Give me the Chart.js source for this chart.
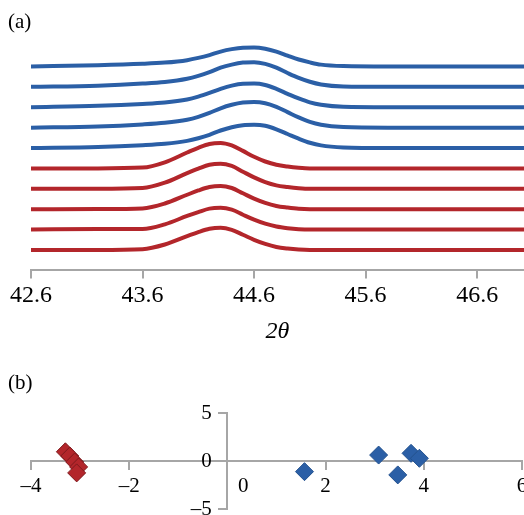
<!DOCTYPE html>
<html>
<head>
<meta charset="utf-8">
<script src="https://cdn.jsdelivr.net/npm/chart.js@4.4.1/dist/chart.umd.min.js"></script>
<style>
  html, body { margin: 0; padding: 0; background: #fff; overflow: hidden; width: 524px; height: 515px; }
  #wrap { position: relative; width: 524px; height: 515px; overflow: hidden; }
  canvas { position: absolute; left: 0; }
  .panel { position: absolute; left: 8px; font-family: "Liberation Serif", serif; font-size: 21px; line-height: 21px; color: #000; }
</style>
</head>
<body>
<div id="wrap">
  <canvas id="profiles" width="524" height="352" style="top:0"></canvas>
  <canvas id="scores" width="540" height="180" style="top:350px"></canvas>
  <div class="panel" style="top:11px">(a)</div>
  <div class="panel" style="top:372px">(b)</div>
</div>
<script>
// (a) diffraction profiles, stacked (each curve already carries its offset)
const twoTheta = [42.6, 43.2, 43.6, 43.8, 44.0, 44.1, 44.2, 44.3, 44.4, 44.5, 44.6, 44.7, 44.8, 44.9, 45.0, 45.1, 45.2, 45.4, 45.8, 46.4, 47.02];
const thetaTicks = [42.6, 43.6, 44.6, 45.6, 46.6];

const blue1 = [100, 100.6, 101.3, 101.9, 103.1, 104.2, 105.6, 107.3, 108.5, 109.2, 109.3, 108.7, 107.3, 105.3, 103.4, 102.0, 100.9, 100.2, 100, 100, 100];
const blue2 = [90, 90.6, 91.6, 92.4, 94.0, 95.4, 97.2, 99.4, 100.9, 101.9, 102.1, 101.3, 99.4, 96.8, 94.4, 92.5, 91.2, 90.2, 90, 90, 90];
const blue3 = [80, 80.7, 81.6, 82.3, 83.8, 85.2, 87.0, 89.0, 90.6, 91.5, 91.6, 90.9, 89.0, 86.6, 84.3, 82.4, 81.2, 80.2, 80, 80, 80];
const blue4 = [70, 70.6, 71.6, 72.4, 73.9, 75.3, 77.2, 79.5, 81.2, 82.3, 82.6, 82.0, 80.2, 77.6, 75.0, 72.8, 71.4, 70.3, 70, 70, 70];
const blue5 = [60, 60.5, 61.4, 62.1, 63.5, 64.8, 66.5, 68.6, 70.2, 71.2, 71.4, 70.9, 69.2, 66.9, 64.6, 62.6, 61.3, 60.3, 60, 60, 60];

const red1 = [50, 50, 50.4, 53.0, 57.8, 60.1, 62.0, 62.5, 61.3, 58.6, 55.7, 53.4, 51.8, 50.9, 50.3, 50, 50, 50, 50, 50, 50];
const red2 = [40, 40, 40.4, 43.0, 47.7, 49.9, 51.8, 52.3, 51.2, 48.4, 45.6, 43.3, 41.7, 40.9, 40.3, 40, 40, 40, 40, 40, 40];
const red3 = [30, 30.1, 30.4, 32.8, 37.1, 39.2, 40.9, 41.4, 40.4, 37.8, 35.2, 33.1, 31.6, 30.8, 30.2, 30, 30, 30, 30, 30, 30];
const red4 = [20, 20.3, 20.3, 22.6, 26.7, 28.6, 30.3, 30.7, 29.8, 27.3, 24.9, 22.9, 21.5, 20.7, 20.2, 20, 20, 20.1, 20, 20, 20];
const red5 = [10, 10, 10.4, 12.7, 16.8, 18.8, 20.4, 20.9, 19.9, 17.5, 15.0, 13.0, 11.5, 10.7, 10.2, 10, 10, 10, 10, 10, 10];

// (b) scores
const redX = [-3.30, -3.21, -3.11, -3.03, -3.07];
const redY = [0.96, 0.52, -0.10, -0.62, -1.24];
const blueX = [1.57, 3.08, 3.47, 3.74, 3.91];
const blueY = [-1.11, 0.62, -1.45, 0.80, 0.28];
const scoreXTicks = [-4, -2, 0, 2, 4, 6];
const scoreYTicks = [-5, 0, 5];

const BLUE = '#2b5fa6';
const RED = '#b3262b';
const AXIS = '#a6a6a6';
const SERIF = '"Liberation Serif", "Times New Roman", serif';

const asPoints = (xs, ys) => xs.map((x, i) => ({ x: x, y: ys[i] }));
const minus = v => (v < 0 ? '\u2013' + Math.abs(v) : String(v));

const curve = (vals, color) => ({
  data: asPoints(twoTheta, vals),
  borderColor: color,
  borderWidth: 4,
  pointRadius: 0,
  cubicInterpolationMode: 'monotone',
  fill: false,
});

new Chart(document.getElementById('profiles').getContext('2d'), {
  type: 'line',
  data: {
    // red first so it is drawn on top where the curves cross
    datasets: [red1, red2, red3, red4, red5].map(v => curve(v, RED))
      .concat([blue1, blue2, blue3, blue4, blue5].map(v => curve(v, BLUE))),
  },
  options: {
    responsive: false,
    animation: false,
    layout: { padding: { left: 31, right: 0, top: 42, bottom: 2 } },
    plugins: { legend: { display: false }, tooltip: { enabled: false } },
    scales: {
      x: {
        type: 'linear',
        min: 42.6,
        max: 47.02,
        afterBuildTicks: axis => { axis.ticks = thetaTicks.map(v => ({ value: v })); },
        ticks: { callback: v => v.toFixed(1), font: { family: SERIF, size: 24 }, color: '#000', padding: 3, maxRotation: 0 },
        grid: { drawOnChartArea: false, tickLength: 8, color: AXIS, lineWidth: 2 },
        border: { color: AXIS, width: 2 },
        title: { display: true, text: '2\u03b8', font: { family: SERIF, size: 24, style: 'italic' }, color: '#000' },
      },
      y: { display: false, min: 0, max: 112 },
    },
  },
});

new Chart(document.getElementById('scores').getContext('2d'), {
  type: 'scatter',
  data: {
    datasets: [
      { data: asPoints(redX, redY), backgroundColor: RED, borderColor: '#7e1a1e', borderWidth: 1, pointStyle: 'rectRot', pointRadius: 9 },
      { data: asPoints(blueX, blueY), backgroundColor: BLUE, borderColor: '#23528f', borderWidth: 1, pointStyle: 'rectRot', pointRadius: 9 },
    ],
  },
  options: {
    responsive: false,
    animation: false,
    layout: { padding: { left: 31, right: 18, top: 63, bottom: 21 } },
    plugins: { legend: { display: false }, tooltip: { enabled: false } },
    scales: {
      x: {
        type: 'linear',
        min: -4,
        max: 6,
        position: { y: 0 },
        afterBuildTicks: axis => { axis.ticks = scoreXTicks.map(v => ({ value: v })); },
        ticks: {
          // the zero label sits to the right of the vertical axis
          callback: v => (v === 0 ? '\u2007\u2007\u20070' : minus(v)),
          font: { family: SERIF, size: 21 }, color: '#000', padding: 5, maxRotation: 0,
        },
        grid: { drawOnChartArea: false, tickLength: 8, color: AXIS, lineWidth: 2 },
        border: { color: AXIS, width: 2 },
      },
      y: {
        type: 'linear',
        min: -5,
        max: 5,
        position: { x: 0 },
        afterBuildTicks: axis => { axis.ticks = scoreYTicks.map(v => ({ value: v })); },
        // labels of a crossing axis hug the line, so pad them with spaces
        ticks: { callback: v => minus(v) + '\u2007\u2005', font: { family: SERIF, size: 21 }, color: '#000' },
        grid: { drawOnChartArea: false, tickLength: 8, color: AXIS, lineWidth: 2 },
        border: { color: AXIS, width: 2 },
      },
    },
  },
});
</script>
</body>
</html>
